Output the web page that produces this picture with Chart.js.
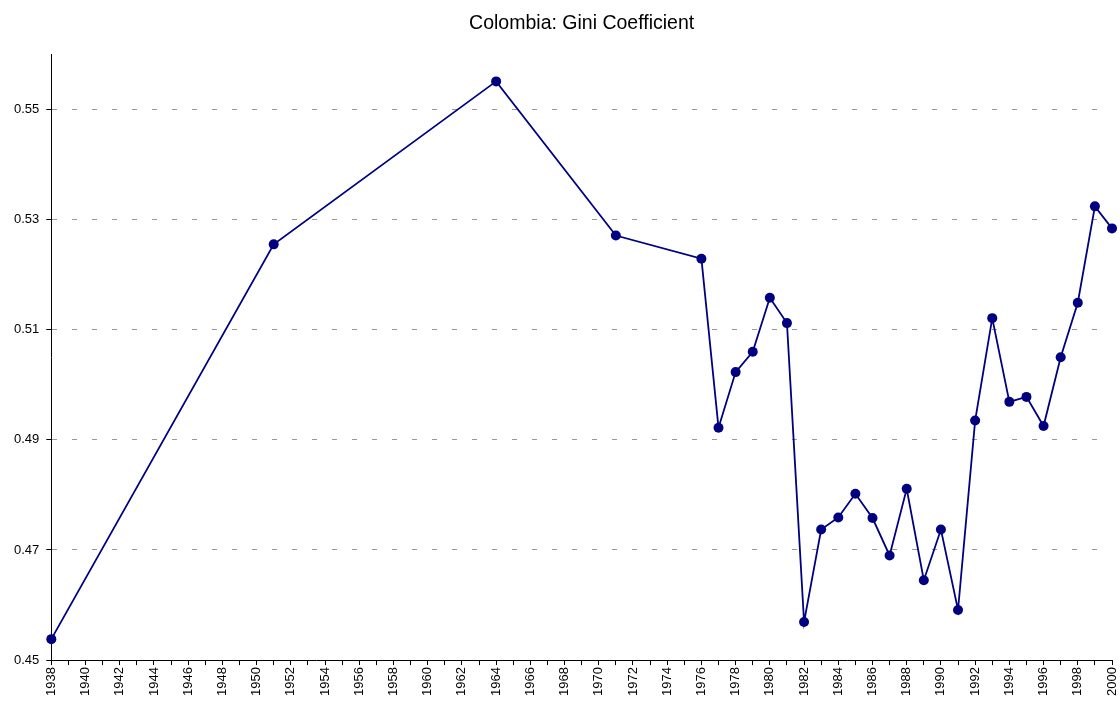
<!DOCTYPE html>
<html>
<head>
<meta charset="utf-8">
<script src="https://cdn.jsdelivr.net/npm/chart.js@4.4.1/dist/chart.umd.min.js"></script>
<style>
html,body{margin:0;padding:0;background:#fff;}
#wrap{width:1120px;height:702px;position:relative;}
</style>
</head>
<body>
<div id="wrap"><canvas id="c" width="1120" height="702"></canvas></div>
<script>
const years = [1938,1951,1964,1971,1976,1977,1978,1979,1980,1981,1982,1983,1984,1985,1986,1987,1988,1989,1990,1991,1992,1993,1994,1995,1996,1997,1998,1999,2000];
const gini  = [0.4538,0.5255,0.5551,0.5271,0.5229,0.4922,0.5023,0.5060,0.5158,0.5112,0.4569,0.4737,0.4759,0.4802,0.4758,0.4690,0.4811,0.4645,0.4737,0.4591,0.4935,0.5121,0.4969,0.4978,0.4925,0.5050,0.5149,0.5324,0.5284];
const yTicks = [0.45,0.47,0.49,0.51,0.53,0.55];
const titleText = 'Colombia: Gini Coefficient';

const pts = years.map((y,i)=>({x:y,y:gini[i]}));
const font = "Arial, 'Liberation Sans', sans-serif";

new Chart(document.getElementById('c'), {
  type: 'line',
  data: { datasets: [{
    data: pts,
    borderColor: '#000080',
    backgroundColor: '#000080',
    borderWidth: 1.8,
    pointRadius: 5,
    pointHoverRadius: 5,
    pointBackgroundColor: '#000080',
    pointBorderColor: '#000080',
    pointBorderWidth: 0,
    tension: 0,
    clip: false
  }]},
  options: {
    responsive: false,
    animation: false,
    events: [],
    layout: { padding: { left: 7, right: 8, top: 4, bottom: 4 } },
    plugins: {
      legend: { display: false },
      tooltip: { enabled: false },
      title: { display: true, text: titleText, color: '#000', fullSize: false,
        font: { family: font, size: 19.5, weight: 'normal' }, padding: { top: 8, bottom: 19 } }
    },
    scales: {
      x: {
        type: 'linear', min: 1938, max: 2000,
        afterBuildTicks: (axis) => { const t=[]; for (let v=1938; v<=2000; v++) t.push({value:v}); axis.ticks = t; },
        afterFit: (scale) => { scale.paddingRight = 0; scale.paddingLeft = 0; },
        ticks: { autoSkip: false, maxRotation: 90, minRotation: 90, color: '#000', padding: 2,
          font: { family: font, size: 13 },
          callback: (v) => (v % 2 === 0 ? String(v) : '') },
        grid: { drawOnChartArea: false, drawTicks: true, tickLength: 5, color: '#000', lineWidth: 1 },
        border: { display: true, color: '#000', width: 1 }
      },
      y: {
        type: 'linear', min: 0.45, max: 0.56,
        afterBuildTicks: (axis) => { axis.ticks = yTicks.map(v=>({value:v})); },
        ticks: { color: '#000', padding: 7, font: { family: font, size: 13 },
          callback: (v) => v.toFixed(2) },
        grid: { drawOnChartArea: true, drawTicks: true, tickLength: 5,
          color: (ctx) => (ctx.tick && Math.abs(ctx.tick.value-0.45)<1e-9 ? 'rgba(0,0,0,0)' : '#999'),
          tickColor: '#000', lineWidth: 1 },
        border: { display: true, color: '#000', width: 1, dash: [5,15] }
      }
    }
  }
});
</script>
</body>
</html>
